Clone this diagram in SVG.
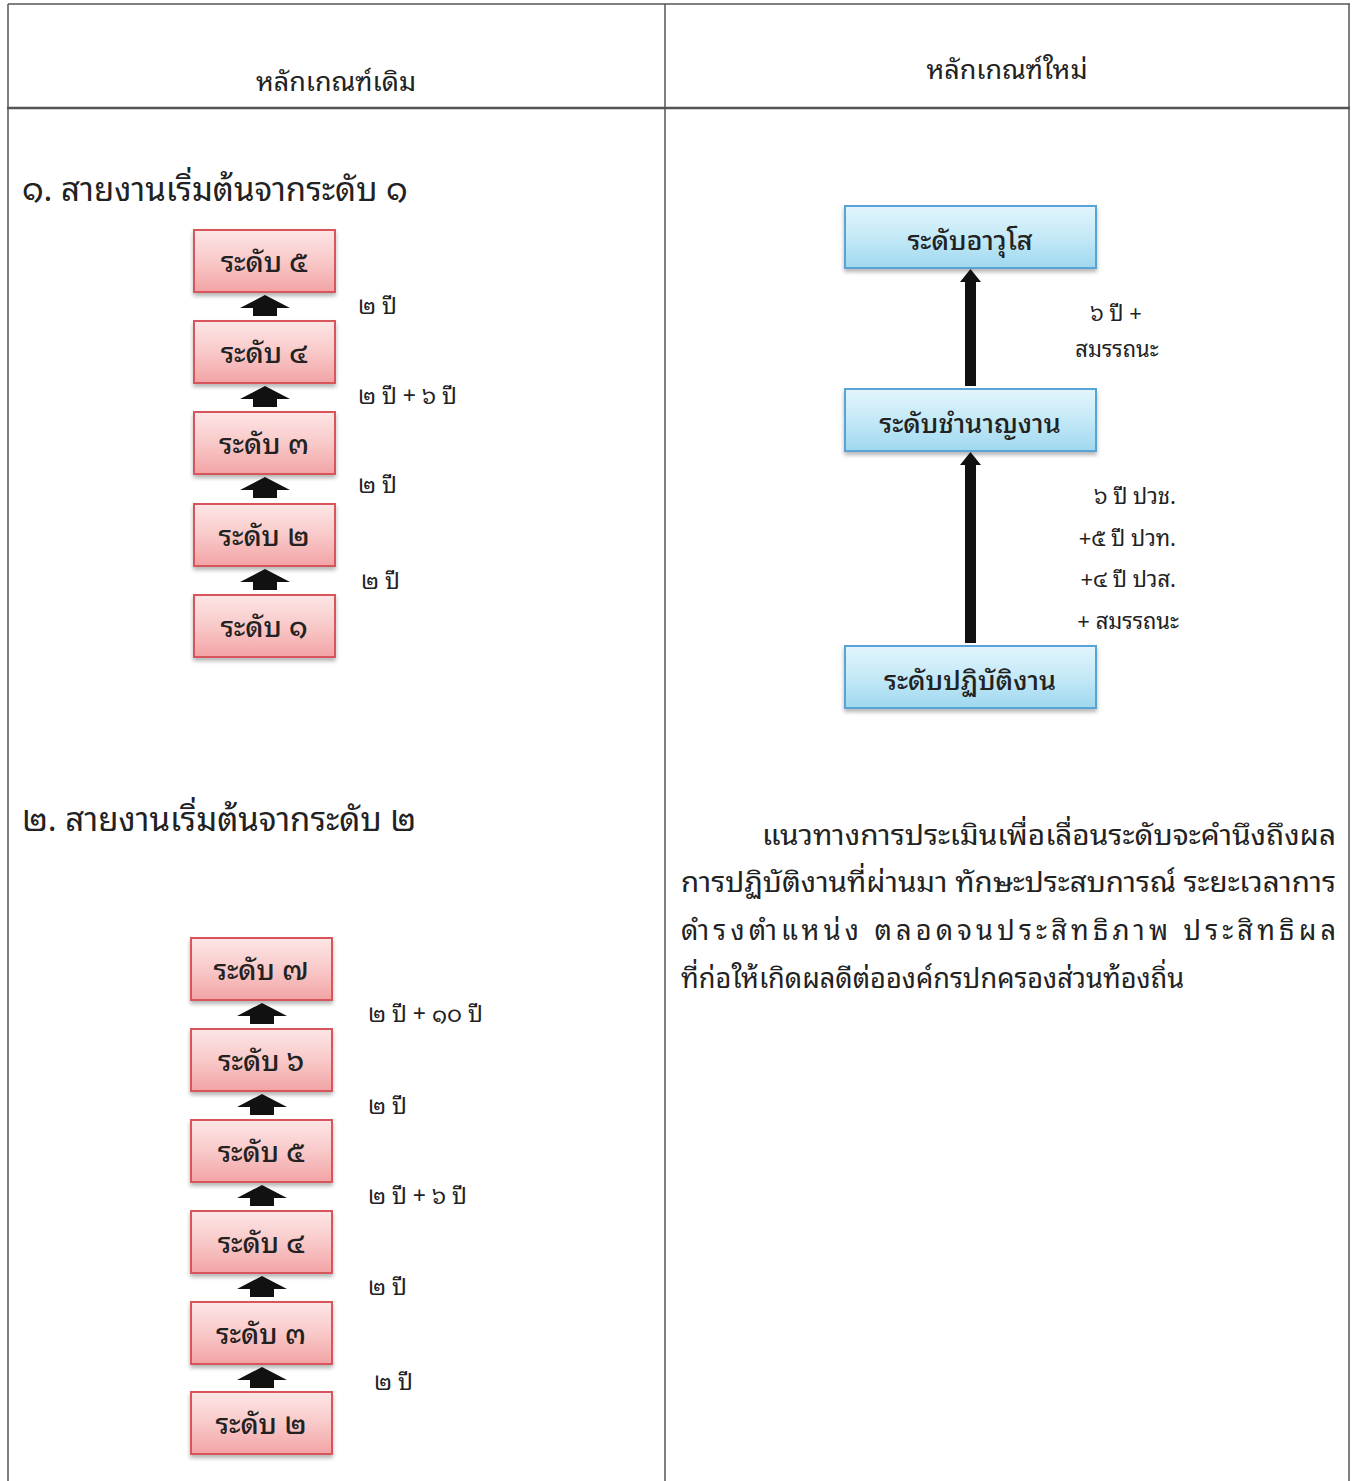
<svg xmlns="http://www.w3.org/2000/svg" width="1358" height="1481" viewBox="0 0 1358 1481">
<defs>
<linearGradient id="gr" x1="0" y1="0" x2="0" y2="1">
<stop offset="0" stop-color="#fde6e6"/><stop offset="0.5" stop-color="#f9c9c9"/><stop offset="1" stop-color="#f2a3a5"/>
</linearGradient>
<linearGradient id="gb" x1="0" y1="0" x2="0" y2="1">
<stop offset="0" stop-color="#e3f5fc"/><stop offset="0.5" stop-color="#c4e9f7"/><stop offset="1" stop-color="#9fd8ef"/>
</linearGradient>
<filter id="sh" x="-10%" y="-10%" width="120%" height="130%">
<feGaussianBlur in="SourceAlpha" stdDeviation="2"/><feOffset dy="3"/><feComponentTransfer><feFuncA type="linear" slope="0.3"/></feComponentTransfer>
<feMerge><feMergeNode/><feMergeNode in="SourceGraphic"/></feMerge>
</filter>
<path id="blk" d="M-25,11 L0,-2 L25,11 L12,11 L12,19 L-12,19 L-12,11 Z"/>
</defs>
<style>
text{font-family:"Noto Sans Thai Looped","Tlwg Typo","Garuda","Loma","Noto Sans Thai","Noto Sans","DejaVu Sans",sans-serif;fill:#222}
.hd{font-size:27px}
.sec{font-size:33px}
.red rect{fill:url(#gr);stroke:#d9545c;stroke-width:2;filter:url(#sh)}
.blue rect{fill:url(#gb);stroke:#5aa3d6;stroke-width:2;filter:url(#sh)}
.bt{font-size:28px;text-anchor:middle;fill:#222;font-weight:500}
.bb{font-size:27px}
.lb{font-size:23px}
.rl{font-size:22px}
.para{font-size:27.2px}
.grid{stroke:#555;stroke-width:1.5;fill:none}
</style>
<rect width="1358" height="1481" fill="#fff"/>
<g id="table" class="grid">
<line x1="8" y1="4" x2="1350" y2="4"/>
<line x1="7" y1="108" x2="1350" y2="108" stroke-width="2.5"/>
<line x1="8" y1="4" x2="8" y2="1481"/>
<line x1="665" y1="4" x2="665" y2="1481"/>
<line x1="1349" y1="4" x2="1349" y2="1481"/>
</g>
<text class="hd" x="336" y="91" text-anchor="middle">หลักเกณฑ์เดิม</text>
<text class="hd" x="1007" y="79" text-anchor="middle">หลักเกณฑ์ใหม่</text>
<text class="sec" x="22" y="201">๑. สายงานเริ่มต้นจากระดับ ๑</text>
<text class="sec" x="22" y="831">๒. สายงานเริ่มต้นจากระดับ ๒</text>

<g id="s1-l5" class="red"><rect x="194" y="230" width="141" height="62"/><text class="bt" x="264" y="272">ระดับ ๕</text></g>
<g id="s1-l4" class="red"><rect x="194" y="321" width="141" height="62"/><text class="bt" x="264" y="363">ระดับ ๔</text></g>
<g id="s1-l3" class="red"><rect x="194" y="412" width="141" height="62"/><text class="bt" x="264" y="454">ระดับ ๓</text></g>
<g id="s1-l2" class="red"><rect x="194" y="504" width="141" height="62"/><text class="bt" x="264" y="546">ระดับ ๒</text></g>
<g id="s1-l1" class="red"><rect x="194" y="595" width="141" height="62"/><text class="bt" x="264" y="637">ระดับ ๑</text></g>

<g id="s2-l7" class="red"><rect x="191" y="938" width="141" height="62"/><text class="bt" x="261" y="980">ระดับ ๗</text></g>
<g id="s2-l6" class="red"><rect x="191" y="1029" width="141" height="62"/><text class="bt" x="261" y="1071">ระดับ ๖</text></g>
<g id="s2-l5" class="red"><rect x="191" y="1120" width="141" height="62"/><text class="bt" x="261" y="1162">ระดับ ๕</text></g>
<g id="s2-l4" class="red"><rect x="191" y="1211" width="141" height="62"/><text class="bt" x="261" y="1253">ระดับ ๔</text></g>
<g id="s2-l3" class="red"><rect x="191" y="1302" width="141" height="62"/><text class="bt" x="261" y="1344">ระดับ ๓</text></g>
<g id="s2-l2" class="red"><rect x="191" y="1392" width="141" height="62"/><text class="bt" x="261" y="1434">ระดับ ๒</text></g>

<g id="n-exp" class="blue"><rect x="845" y="206" width="251" height="62"/><text class="bt bb" x="970" y="250">ระดับอาวุโส</text></g>
<g id="n-skl" class="blue"><rect x="845" y="389" width="251" height="62"/><text class="bt bb" x="970" y="433">ระดับชำนาญงาน</text></g>
<g id="n-op" class="blue"><rect x="845" y="646" width="251" height="62"/><text class="bt bb" x="970" y="690">ระดับปฏิบัติงาน</text></g>

<g id="connectors" fill="#111">
<use href="#blk" x="265" y="297"/>
<use href="#blk" x="265" y="388"/>
<use href="#blk" x="265" y="479"/>
<use href="#blk" x="265" y="571"/>
<use href="#blk" x="262" y="1005"/>
<use href="#blk" x="262" y="1096"/>
<use href="#blk" x="262" y="1187"/>
<use href="#blk" x="262" y="1278"/>
<use href="#blk" x="262" y="1369"/>
<path d="M965,386 L965,282 L960,282 L970.5,269 L981,282 L976,282 L976,386 Z"/>
<path d="M965,643 L965,465 L960,465 L970.5,452 L981,465 L976,465 L976,643 Z"/>
</g>

<g id="labels">
<text class="lb" x="358" y="314">๒ ปี</text>
<text class="lb" x="358" y="404">๒ ปี + ๖ ปี</text>
<text class="lb" x="358" y="493">๒ ปี</text>
<text class="lb" x="361" y="589">๒ ปี</text>
<text class="lb" x="368" y="1022">๒ ปี + ๑๐ ปี</text>
<text class="lb" x="368" y="1114">๒ ปี</text>
<text class="lb" x="368" y="1204">๒ ปี + ๖ ปี</text>
<text class="lb" x="368" y="1295">๒ ปี</text>
<text class="lb" x="374" y="1390">๒ ปี</text>
<text class="rl" x="1116" y="321" text-anchor="middle">๖ ปี +</text>
<text class="rl" x="1117" y="357" text-anchor="middle">สมรรถนะ</text>
<text class="rl" x="1176" y="504" text-anchor="end">๖ ปี ปวช.</text>
<text class="rl" x="1176" y="546" text-anchor="end">+๕ ปี ปวท.</text>
<text class="rl" x="1176" y="587" text-anchor="end">+๔ ปี ปวส.</text>
<text class="rl" x="1179" y="629" text-anchor="end">+ สมรรถนะ</text>
</g>

<g id="paragraph" class="para">
<text x="762" y="845" textLength="574" lengthAdjust="spacingAndGlyphs">แนวทางการประเมินเพื่อเลื่อนระดับจะคำนึงถึงผล</text>
<text x="681" y="892" textLength="655" lengthAdjust="spacingAndGlyphs">การปฏิบัติงานที่ผ่านมา ทักษะประสบการณ์ ระยะเวลาการ</text>
<text x="681" y="940" textLength="655">ดำรงตำแหน่ง ตลอดจนประสิทธิภาพ ประสิทธิผล</text>
<text x="681" y="988">ที่ก่อให้เกิดผลดีต่อองค์กรปกครองส่วนท้องถิ่น</text>
</g>
</svg>
